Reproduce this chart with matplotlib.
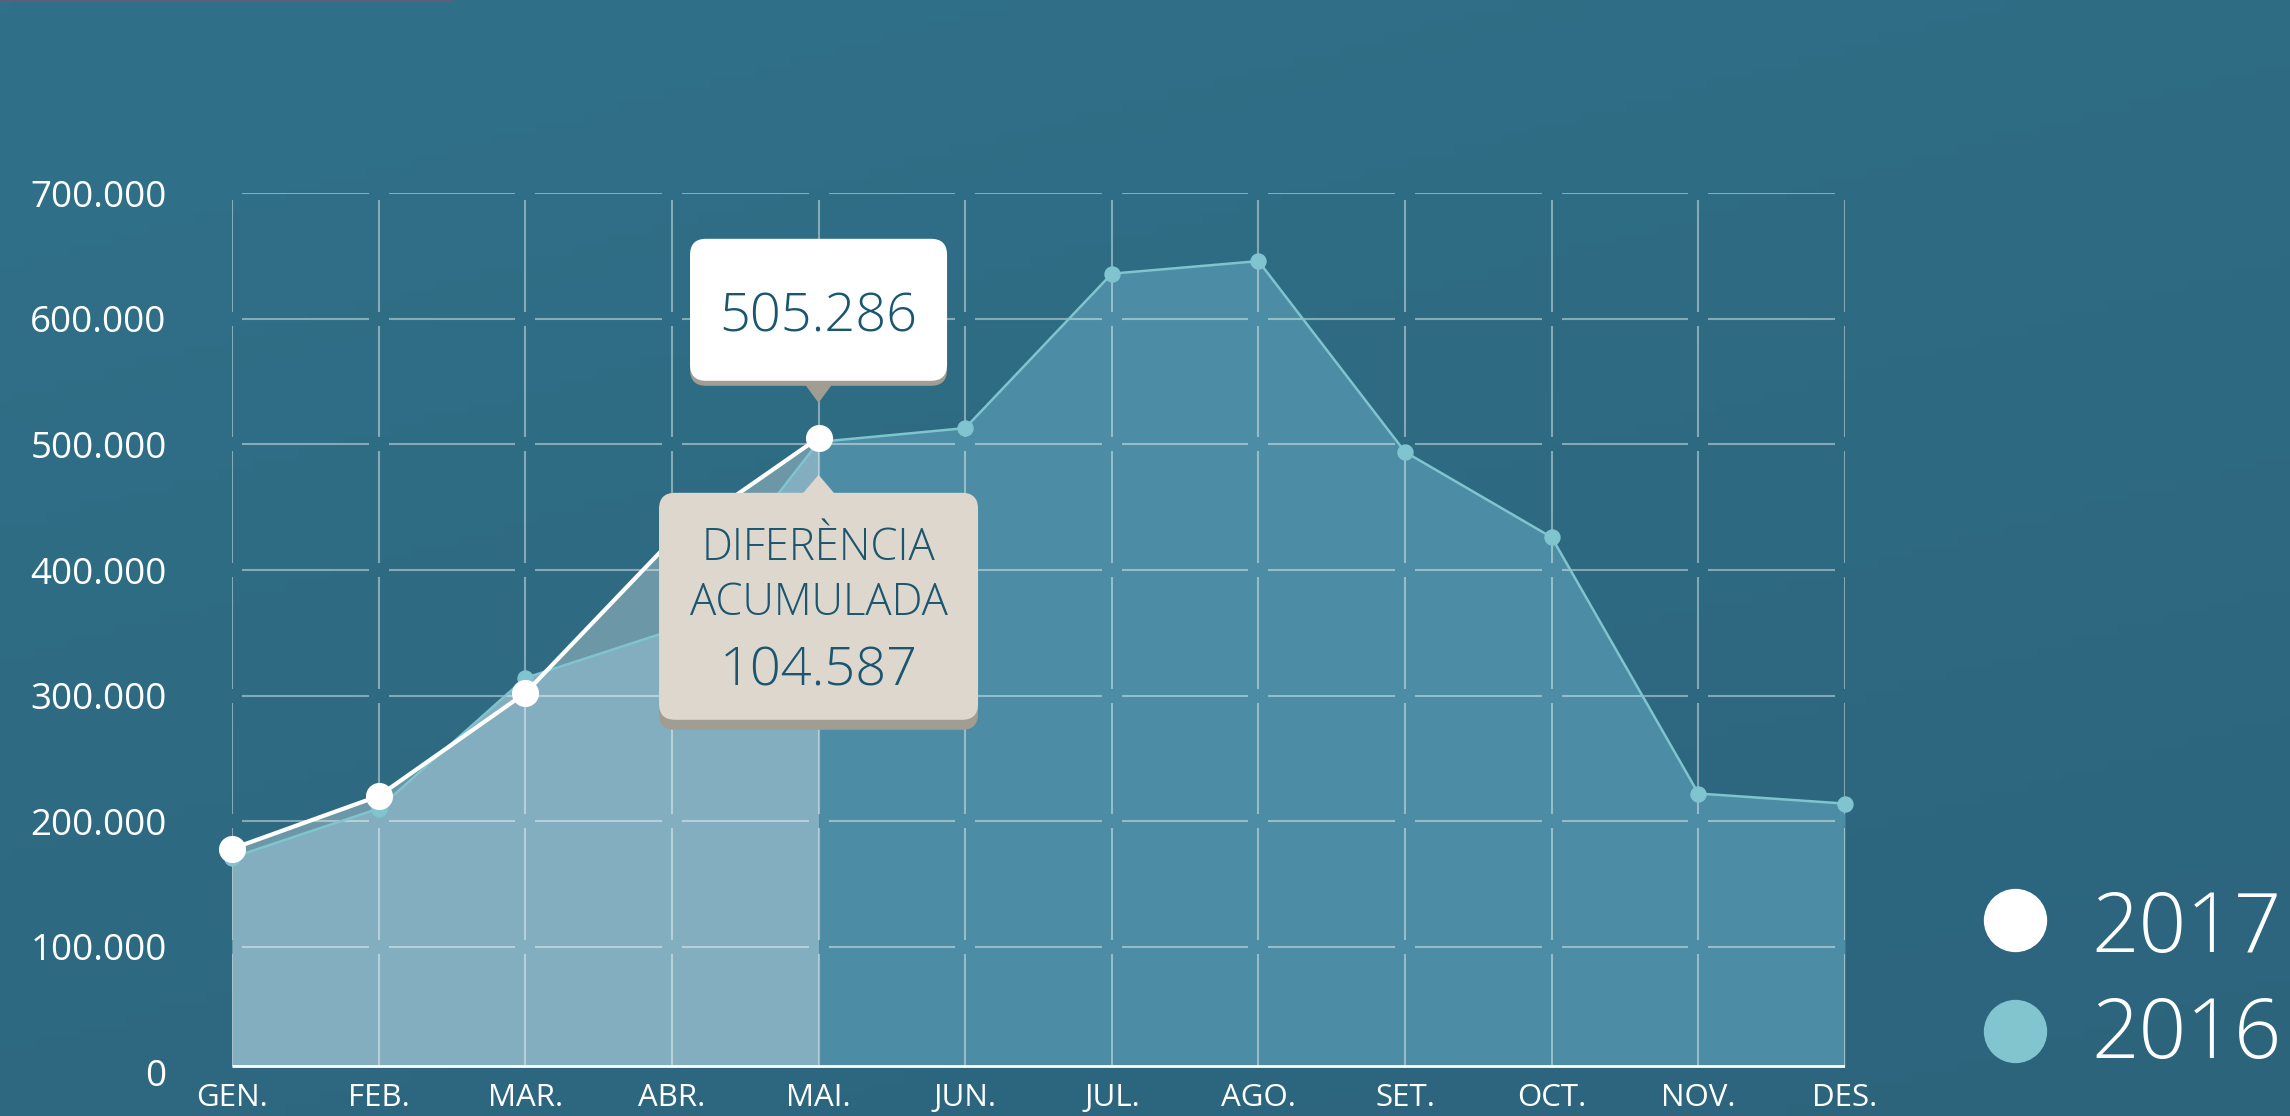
import numpy as np
import matplotlib.pyplot as plt
from matplotlib.patches import FancyBboxPatch, Polygon
from matplotlib.collections import LineCollection
from matplotlib.transforms import IdentityTransform
from matplotlib.lines import Line2D

plt.rcParams['font.family'] = ['Open Sans', 'DejaVu Sans']

# data
months = ['GEN.', 'FEB.', 'MAR.', 'ABR.', 'MAI.', 'JUN.', 'JUL.', 'AGO.', 'SET.', 'OCT.', 'NOV.', 'DES.']
values_2016 = [171000, 210000, 314000, 352000, 502000, 513000, 636000, 646000, 494000, 426000, 222000, 214000]
values_2017 = [178000, 220000, 302000, 424000, 505286]
y_ticks = [0, 100000, 200000, 300000, 400000, 500000, 600000, 700000]
tip_value = '505.286'
diff_lines = ['DIFERÈNCIA', 'ACUMULADA']
diff_value = '104.587'
series_names = ['2017', '2016']

W, H = 2290, 1116
fig = plt.figure(figsize=(W / 100, H / 100), dpi=100)

# background gradient
bg = fig.add_axes([0, 0, 1, 1], zorder=-10)
xx, yy = np.meshgrid(np.linspace(0, 1, 200), np.linspace(0, 1, 100))
t = 0.35 * xx + 0.65 * yy
top_c = np.array([48, 113, 137]) / 255
bot_c = np.array([44, 100, 124]) / 255
grad = top_c[None, None, :] * (1 - t[..., None]) + bot_c[None, None, :] * t[..., None]
bg.imshow(grad, extent=[0, 1, 0, 1], aspect='auto', origin='upper')
bg.axis('off')
# thin line at the very top left
fig.add_artist(Line2D([0, 452], [H - 1, H - 1], color='#5b5f7e', lw=1.5,
                      transform=IdentityTransform()))

# main axes
px_top, px_zero, px_left, px_right = 193.3, 1072.3, 232, 1845
ax = fig.add_axes([px_left / W, (H - px_zero) / H, (px_right - px_left) / W, (px_zero - px_top) / H])
ax.patch.set_alpha(0)
for s in ax.spines.values():
    s.set_visible(False)
ax.set_xlim(0, 11)
ax.set_ylim(0, 700000)

x = np.arange(len(months))
base = 5000

ax.fill_between(x[:5], base, values_2017, color='#6c97a6', lw=0, zorder=1)
ax.fill_between(x[:5], base, values_2016[:5], color='#82aebf', lw=0, zorder=1.1)
ax.fill_between(x[4:], base, values_2016[4:], color='#4c8ca5', lw=0, zorder=1.1)

# broken grid
gx = 10 / ((px_right - px_left) / 11)
gy = 7 / ((px_zero - px_top) / 700000)
segs = []
for yv in y_ticks[1:]:
    for i in range(11):
        segs.append([(i + gx, yv), (i + 1 - gx, yv)])
levels = [base] + y_ticks[1:]
for xi in x:
    for j in range(len(levels) - 1):
        y0 = levels[j] + (gy if j > 0 else 0)
        y1 = levels[j + 1] - gy
        segs.append([(xi, y0), (xi, y1)])
ax.add_collection(LineCollection(segs, colors='white', alpha=0.42, linewidths=1.5, zorder=2))
ax.plot([0, 11], [base, base], color='white', lw=2, zorder=3, solid_capstyle='butt')

ax.plot(x, values_2016, color='#80c4cf', lw=1.8, marker='o', ms=10.8, zorder=4, clip_on=False)
ax.plot(x[:5], values_2017, color='white', lw=3, marker='o', ms=18.5, zorder=5, clip_on=False)

ax.set_xticks(x, months)
ax.set_yticks(y_ticks, [f'{v:,}'.replace(',', '.') for v in y_ticks])
ax.tick_params(axis='x', length=0, pad=8, labelsize=22.5, colors='white')
ax.tick_params(axis='y', length=0, pad=47, labelsize=26.5, colors='white')

# callouts
ident = IdentityTransform()
apx, apy = ax.transData.transform((x[4], values_2017[4]))
text_c = '#1b5670'

# top white box
fig.add_artist(FancyBboxPatch((apx - 128.5, apy + 52), 257, 142, boxstyle='round,pad=0,rounding_size=16',
                              fc='#a09d92', ec='none', transform=ident, zorder=20))
fig.add_artist(Polygon([(apx - 17, apy + 58), (apx + 17, apy + 58), (apx, apy + 35)], closed=True,
                       fc='#a09d92', ec='none', transform=ident, zorder=20))
fig.add_artist(FancyBboxPatch((apx - 128.5, apy + 57), 257, 142, boxstyle='round,pad=0,rounding_size=16',
                              fc='white', ec='none', transform=ident, zorder=21))
fig.text(apx, apy + 106, tip_value, transform=ident, ha='center', va='baseline',
         fontsize=39, color=text_c, fontweight='light', zorder=22)

# bottom beige box
fig.add_artist(FancyBboxPatch((apx - 159.5, apy - 292), 319, 227, boxstyle='round,pad=0,rounding_size=16',
                              fc='#a09d92', ec='none', transform=ident, zorder=20))
fig.add_artist(FancyBboxPatch((apx - 159.5, apy - 282), 319, 227, boxstyle='round,pad=0,rounding_size=16',
                              fc='#ddd7cd', ec='none', transform=ident, zorder=21))
fig.add_artist(Polygon([(apx - 17, apy - 57), (apx + 17, apy - 57), (apx, apy - 37)], closed=True,
                       fc='#ddd7cd', ec='none', transform=ident, zorder=21))
fig.text(apx, apy - 122, diff_lines[0], transform=ident, ha='center', va='baseline',
         fontsize=31.5, color=text_c, fontweight='light', zorder=22)
fig.text(apx, apy - 177, diff_lines[1], transform=ident, ha='center', va='baseline',
         fontsize=31.5, color=text_c, fontweight='light', zorder=22)
fig.text(apx, apy - 248, diff_value, transform=ident, ha='center', va='baseline',
         fontsize=39, color=text_c, fontweight='light', zorder=22)

# legend
leg_colors = ['white', '#82c5cf']
leg_centers = [196, 85]
leg_baselines = [164, 58]
for name, c, cy, by in zip(series_names, leg_colors, leg_centers, leg_baselines):
    fig.add_artist(Line2D([2015], [cy], marker='o', ms=44.6, color=c, lw=0, transform=ident))
    fig.text(2091, by, name, transform=ident, ha='left', va='baseline',
             fontsize=60, color='white', fontweight='light')

fig.savefig('out.png', dpi=100)
